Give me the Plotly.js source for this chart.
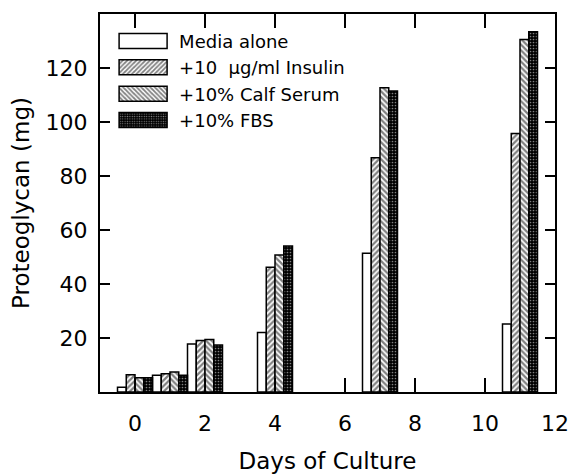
<!DOCTYPE html>
<html>
<head>
<meta charset="utf-8">
<script src="https://cdn.plot.ly/plotly-3.0.1.min.js"></script>
<style>html,body{margin:0;padding:0;background:#fff}#chart{width:571px;height:474px}</style>
</head>
<body>
<div id="chart"></div>
<script>
var days = [0, 1, 2, 4, 7, 11];
var seriesNames = ["Media alone", "+10  \u00b5g/ml Insulin", "+10% Calf Serum", "+10% FBS"];
var mediaAlone = [1.8, 6.2, 17.8, 22.0, 51.4, 25.2];
var insulin = [6.4, 6.8, 19.1, 46.2, 86.8, 95.7];
var calfSerum = [5.3, 7.4, 19.4, 50.7, 112.7, 130.6];
var fbs = [5.3, 6.2, 17.4, 54.1, 111.5, 133.4];
var xTicks = [0, 2, 4, 6, 8, 10, 12];
var yTicks = [20, 40, 60, 80, 100, 120];

var lineStyle = {color: "black", width: 1.5};
var traces = [
  {type: "bar", name: seriesNames[0], x: days, y: mediaAlone,
   marker: {color: "white", line: lineStyle}},
  {type: "bar", name: seriesNames[1], x: days, y: insulin,
   marker: {color: "white", line: lineStyle,
     pattern: {shape: "/", fillmode: "overlay", bgcolor: "white", fgcolor: "black", size: 4, solidity: 0.55}}},
  {type: "bar", name: seriesNames[2], x: days, y: calfSerum,
   marker: {color: "white", line: lineStyle,
     pattern: {shape: "\\", fillmode: "overlay", bgcolor: "white", fgcolor: "black", size: 4, solidity: 0.55}}},
  {type: "bar", name: seriesNames[3], x: days, y: fbs,
   marker: {color: "black", line: lineStyle,
     pattern: {shape: ".", fillmode: "overlay", bgcolor: "black", fgcolor: "white", size: 3, solidity: 0.25}}}
];

var font = {family: "DejaVu Sans, Liberation Sans, Arial, sans-serif", color: "black"};
var layout = {
  width: 571, height: 474,
  margin: {l: 100, r: 16, t: 14, b: 82},
  paper_bgcolor: "white", plot_bgcolor: "white",
  barmode: "group", bargap: 0, bargroupgap: 0,
  font: font,
  showlegend: true,
  legend: {x: 0.02, y: 0.977, xanchor: "left", yanchor: "top", itemwidth: 60,
    bgcolor: "rgba(0,0,0,0)", borderwidth: 0, tracegroupgap: 0,
    font: {family: font.family, size: 18, color: "black"}},
  xaxis: {range: [-1, 12], tickvals: xTicks, ticks: "inside", ticklen: 14, tickwidth: 1.2,
    tickcolor: "black", showline: true, linewidth: 2, linecolor: "black", mirror: "ticks",
    showgrid: false, zeroline: false, tickfont: {family: font.family, size: 22, color: "black"},
    ticklabelstandoff: 11,
    title: {text: "Days of Culture", font: {family: font.family, size: 23, color: "black"}, standoff: 17}},
  yaxis: {range: [0, 140], tickvals: yTicks, ticks: "inside", ticklen: 10, tickwidth: 1.2,
    tickcolor: "black", showline: true, linewidth: 2, linecolor: "black", mirror: "ticks",
    showgrid: false, zeroline: false, tickfont: {family: font.family, size: 22, color: "black"},
    ticklabelstandoff: 6,
    title: {text: "Proteoglycan (mg)", font: {family: font.family, size: 23, color: "black"}, standoff: 10}}
};

Plotly.newPlot("chart", traces, layout, {staticPlot: true, displayModeBar: false}).then(function (gd) {
  // enlarge the legend swatches to look like the reference's wide boxes
  var paths = gd.querySelectorAll(".legend .legendpoints path");
  paths.forEach(function (p) {
    p.setAttribute("d", "M24,7.5H-24V-7.5H24Z");
    p.setAttribute("transform", "translate(34,0)");
  });
});
</script>
</body>
</html>
